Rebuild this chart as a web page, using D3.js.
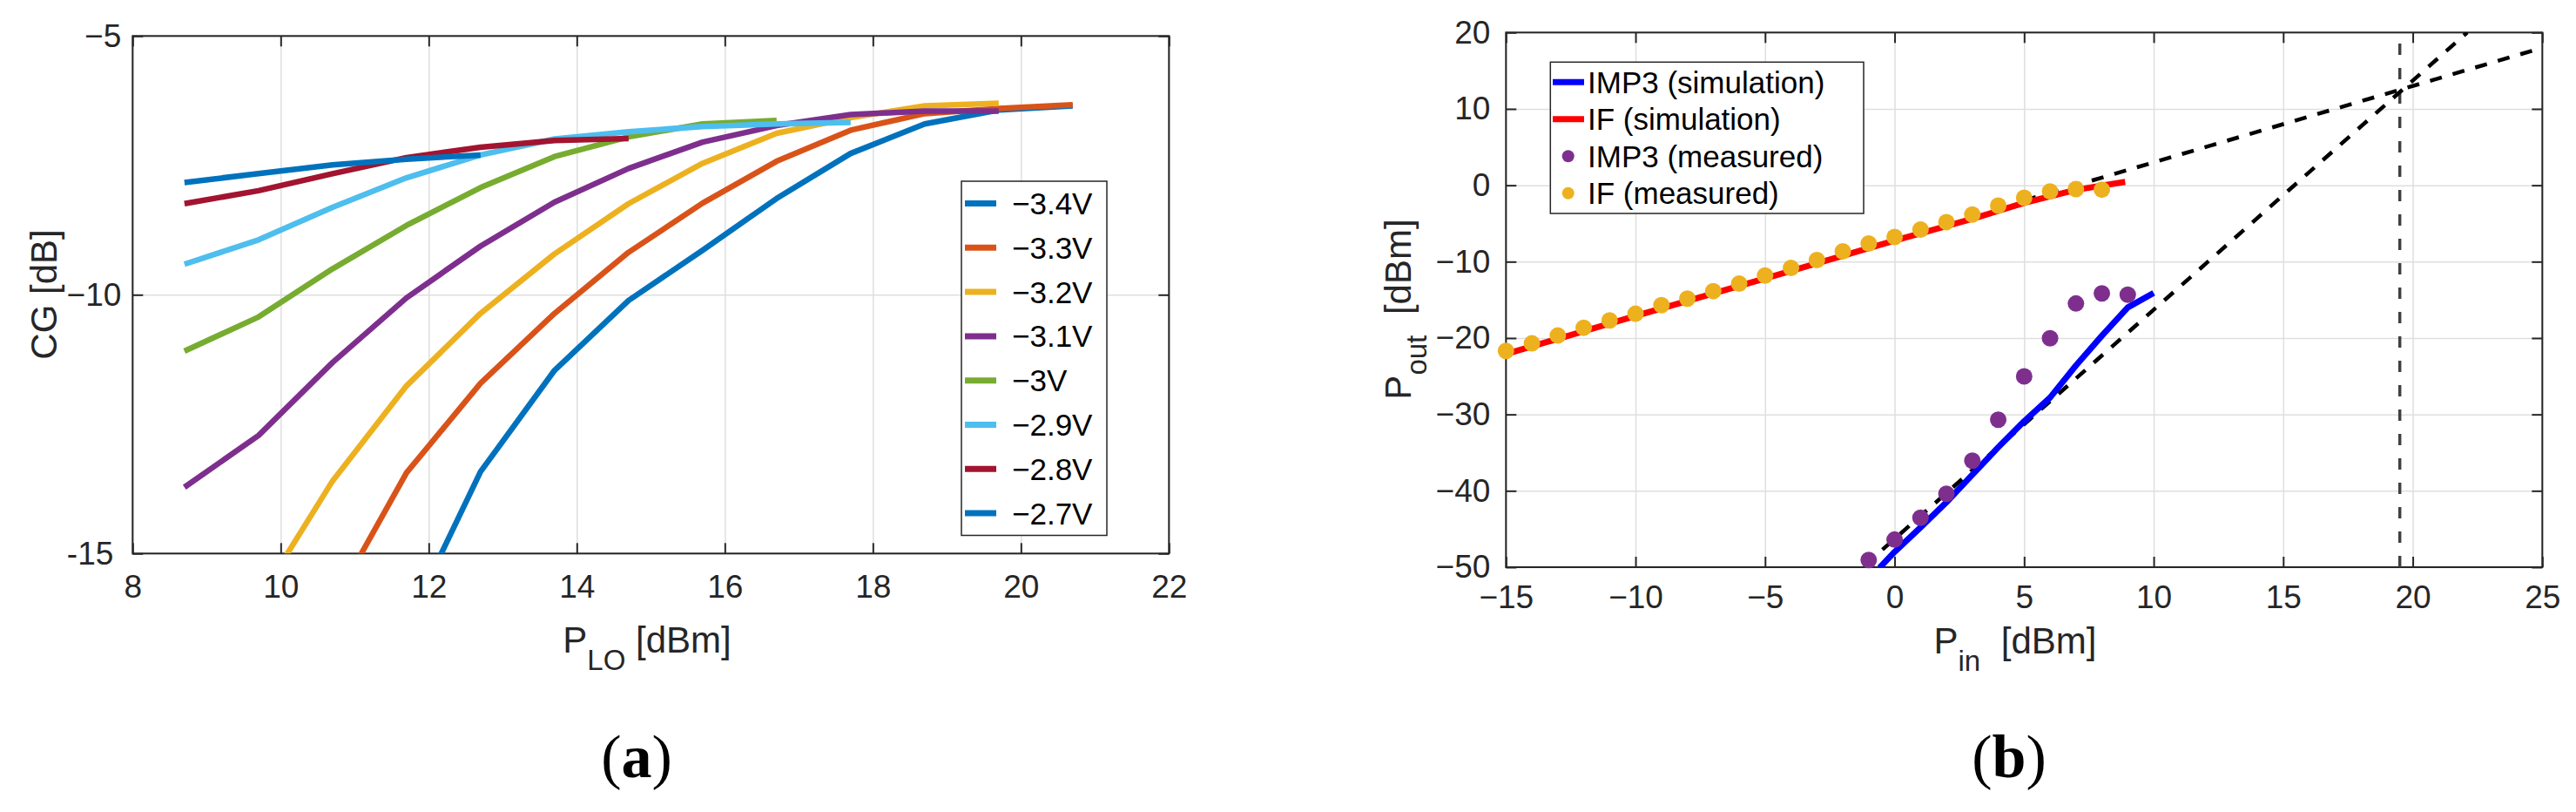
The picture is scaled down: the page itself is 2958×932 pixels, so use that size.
<!DOCTYPE html>
<html lang="en">
<head>
<meta charset="utf-8">
<script src="https://d3js.org/d3.v7.min.js"></script>
<style>
  body { margin: 0; background: #fff; }
  svg { display: block; font-family: "Liberation Sans", Arial, sans-serif; }
  .grid line { stroke: #dfdfdf; stroke-width: 1.5px; }
  .grid path { display: none; }
  .axis path { display: none; }
  .axis line { stroke: #262626; stroke-width: 2px; }
  .axis text { fill: #262626; font-size: 37px; font-family: "Liberation Sans", Arial, sans-serif; }
  .box { fill: none; stroke: #262626; stroke-width: 2px; }
  .lbl { fill: #262626; font-size: 42px; }
  .leg text { fill: #000; font-size: 35px; }
</style>
</head>
<body>
<script>
var width = 2958, height = 932;

// ---- panel (a): conversion gain vs LO power, one curve per gate bias
var loPower = [8.7, 9.7, 10.7, 11.7, 12.7, 13.7, 14.7, 15.7, 16.7, 17.7, 18.7, 19.7, 20.7];
var cgLabels = ["\u22123.4V", "\u22123.3V", "\u22123.2V", "\u22123.1V", "\u22123V", "\u22122.9V", "\u22122.8V", "\u22122.7V"];
var cg34 = [null, null, null, -16.4, -13.42, -11.46, -10.11, -9.14, -8.14, -7.27, -6.70, -6.43, -6.35];
var cg33 = [null, null, -16.0, -13.44, -11.71, -10.36, -9.18, -8.23, -7.42, -6.82, -6.50, -6.40, -6.33];
var cg32 = [null, -15.9, -13.6, -11.76, -10.36, -9.21, -8.24, -7.46, -6.88, -6.58, -6.35, -6.30, null];
var cg31 = [-13.72, -12.72, -11.31, -10.06, -9.06, -8.21, -7.56, -7.05, -6.73, -6.52, -6.45, -6.45, null];
var cg30 = [-11.09, -10.43, -9.50, -8.66, -7.93, -7.33, -6.95, -6.70, -6.63, null, null, null, null];
var cg29 = [-9.41, -8.94, -8.31, -7.74, -7.30, -6.99, -6.85, -6.75, -6.70, -6.67, null, null, null];
var cg28 = [-8.24, -7.99, -7.66, -7.35, -7.15, -7.02, -6.98, null, null, null, null, null, null];
var cg27 = [-7.83, -7.66, -7.49, -7.38, -7.30, null, null, null, null, null, null, null, null];
var cgSeries = [cg34, cg33, cg32, cg31, cg30, cg29, cg28, cg27];
var cgColors = ["#0072BD", "#D95319", "#EDB120", "#7E2F8E", "#77AC30", "#4DBEEE", "#A2142F", "#0072BD"];
var aXTicks = [8, 10, 12, 14, 16, 18, 20, 22];
var aYTicks = [-15, -10, -5];

// ---- panel (b): two-tone test, output power vs input power
var ifMeasX = [-15, -14, -13, -12, -11, -10, -9, -8, -7, -6, -5, -4, -3, -2, -1, 0, 1, 2, 3, 4, 5, 6, 7, 8];
var ifMeasY = [-21.69, -20.70, -19.67, -18.65, -17.70, -16.82, -15.69, -14.85, -13.86, -12.88, -11.81, -10.82,
               -9.80, -8.66, -7.63, -6.76, -5.81, -4.82, -3.84, -2.66, -1.63, -0.80, -0.49, -0.57];
var imMeasX = [-1, 0, 1, 2, 3, 4, 5, 6, 7, 8, 9];
var imMeasY = [-49.06, -46.39, -43.53, -40.39, -36.05, -30.69, -25.02, -20.04, -15.48, -14.15, -14.33];
var ifSimX = [-15, -10, -5, 0, 3, 5, 7, 8.9];
var ifSimY = [-22.1, -17.1, -12.2, -7.25, -4.4, -2.3, -0.6, 0.45];
var imSimX = [-0.58, 0, 1, 2, 3, 4, 5, 6, 7, 8, 9, 10];
var imSimY = [-50.08, -48.0, -44.8, -41.5, -37.9, -34.3, -30.9, -27.8, -23.6, -19.7, -16.0, -14.1];
// extrapolated slopes (1:1 and 3:1) and the IIP3 marker
var fitIfX = [5, 25], fitIfY = [-2, 18];
var fitImX = [-0.47, 22.1], fitImY = [-47.7, 20];
var iip3X = [19.5, 19.5], iip3Y = [-50, 20];
var bLegend = ["IMP3 (simulation)", "IF (simulation)", "IMP3 (measured)", "IF (measured)"];
var bXTicks = [-15, -10, -5, 0, 5, 10, 15, 20, 25];
var bYTicks = [-50, -40, -30, -20, -10, 0, 10, 20];

var svg = d3.select("body").append("svg")
  .attr("width", width)
  .attr("height", height);
svg.append("rect").attr("width", width).attr("height", height).attr("fill", "#fff");
var defs = svg.append("defs");

function fmt(d) {
  return d < 0 ? "\u2212" + (-d) : String(d);
}

function panel(o) {
  var g = svg.append("g");
  var x = d3.scaleLinear().domain(o.xDomain).range([o.left, o.right]);
  var y = d3.scaleLinear().domain(o.yDomain).range([o.bottom, o.top]);
  var w = o.right - o.left, h = o.bottom - o.top;

  g.append("g").attr("class", "grid")
    .attr("transform", "translate(0," + o.bottom + ")")
    .call(d3.axisBottom(x).tickValues(o.xTicks).tickSize(-h).tickFormat(""));
  g.append("g").attr("class", "grid")
    .attr("transform", "translate(" + o.left + ",0)")
    .call(d3.axisLeft(y).tickValues(o.yTicks).tickSize(-w).tickFormat(""));

  g.append("g").attr("class", "axis")
    .attr("transform", "translate(0," + o.bottom + ")")
    .call(d3.axisBottom(x).tickValues(o.xTicks).tickSize(-12).tickSizeOuter(0)
      .tickPadding(o.xPad).tickFormat(fmt));
  o.yAxis = g.append("g").attr("class", "axis")
    .attr("transform", "translate(" + o.left + ",0)")
    .call(d3.axisLeft(y).tickValues(o.yTicks).tickSize(-12).tickSizeOuter(0)
      .tickPadding(o.yPad).tickFormat(o.yFmt || fmt));
  g.append("g").attr("class", "axis")
    .attr("transform", "translate(0," + o.top + ")")
    .call(d3.axisTop(x).tickValues(o.xTicks).tickSize(-12).tickSizeOuter(0).tickFormat(""));
  g.append("g").attr("class", "axis")
    .attr("transform", "translate(" + o.right + ",0)")
    .call(d3.axisRight(y).tickValues(o.yTicks).tickSize(-12).tickSizeOuter(0).tickFormat(""));

  g.append("rect").attr("class", "box")
    .attr("x", o.left).attr("y", o.top).attr("width", w).attr("height", h);

  defs.append("clipPath").attr("id", o.id)
    .append("rect").attr("x", o.left).attr("y", o.top).attr("width", w).attr("height", h);
  var plot = g.append("g").attr("clip-path", "url(#" + o.id + ")");
  return { g: g, plot: plot, x: x, y: y, yAxis: o.yAxis };
}

// ================= panel (a)
var A = panel({
  id: "clipA", left: 152.3, right: 1342.3, top: 41.3, bottom: 635.3,
  xDomain: [8, 22], yDomain: [-15, -5], xTicks: aXTicks, yTicks: aYTicks,
  xPad: 24, yPad: 13,
  yFmt: function (d) { return d === -15 ? "-15" : fmt(d); }
});
// the bottom label was typed with a hyphen and sits a bit further left
A.yAxis.selectAll(".tick text").filter(function (d) { return d === -15; })
  .attr("dx", -9);

var lineA = d3.line()
  .defined(function (d) { return d[1] !== null; })
  .x(function (d) { return A.x(d[0]); })
  .y(function (d) { return A.y(d[1]); });

cgSeries.forEach(function (s, i) {
  var pts = s.map(function (v, j) { return [loPower[j], v]; });
  A.plot.append("path")
    .attr("d", lineA(pts))
    .attr("fill", "none")
    .attr("stroke", cgColors[i])
    .attr("stroke-width", 6.5)
    .attr("stroke-linejoin", "round");
});

// legend (a)
var legA = A.g.append("g").attr("class", "leg");
legA.append("rect")
  .attr("x", 1104).attr("y", 208).attr("width", 167).attr("height", 406.5)
  .attr("fill", "#fff").attr("stroke", "#262626").attr("stroke-width", 1.5);
cgLabels.forEach(function (t, i) {
  var yy = 233.6 + i * 50.76;
  legA.append("line").attr("x1", 1108).attr("x2", 1144).attr("y1", yy).attr("y2", yy)
    .attr("stroke", cgColors[i]).attr("stroke-width", 7);
  legA.append("text").attr("x", 1162).attr("y", yy).attr("dy", "0.36em").text(t);
});

// axis labels (a)
A.g.append("text").attr("class", "lbl")
  .attr("transform", "translate(65,338) rotate(-90)")
  .attr("text-anchor", "middle")
  .text("CG [dB]");
var xlA = A.g.append("text").attr("class", "lbl")
  .attr("x", 743).attr("y", 749).attr("text-anchor", "middle");
xlA.append("tspan").text("P");
xlA.append("tspan").attr("font-size", 33).attr("dy", 20).text("LO");
xlA.append("tspan").attr("dy", -20).text(" [dBm]");

// ================= panel (b)
var B = panel({
  id: "clipB", left: 1729.3, right: 2919.3, top: 37.3, bottom: 651,
  xDomain: [-15, 25], yDomain: [-50, 20], xTicks: bXTicks, yTicks: bYTicks,
  xPad: 21, yPad: 18
});

var lineB = d3.line()
  .x(function (d) { return B.x(d[0]); })
  .y(function (d) { return B.y(d[1]); });
function zip(xs, ys) { return xs.map(function (v, i) { return [v, ys[i]]; }); }

B.plot.append("path").attr("d", lineB(zip(iip3X, iip3Y)))
  .attr("fill", "none").attr("stroke", "#404040").attr("stroke-width", 3.5)
  .attr("stroke-dasharray", "13 15");
[[fitIfX, fitIfY], [fitImX, fitImY]].forEach(function (f) {
  B.plot.append("path").attr("d", lineB(zip(f[0], f[1])))
    .attr("fill", "none").attr("stroke", "#000").attr("stroke-width", 4.5)
    .attr("stroke-dasharray", "14 13");
});
B.plot.append("path").attr("d", lineB(zip(imSimX, imSimY)))
  .attr("fill", "none").attr("stroke", "#0000ff").attr("stroke-width", 7)
  .attr("stroke-linejoin", "round");
B.plot.append("path").attr("d", lineB(zip(ifSimX, ifSimY)))
  .attr("fill", "none").attr("stroke", "#ff0000").attr("stroke-width", 7)
  .attr("stroke-linejoin", "round");

B.g.append("g").selectAll("circle").data(zip(imMeasX, imMeasY)).enter()
  .append("circle")
  .attr("cx", function (d) { return B.x(d[0]); })
  .attr("cy", function (d) { return B.y(d[1]); })
  .attr("r", 9.5).attr("fill", "#7E2F8E");
B.g.append("g").selectAll("circle").data(zip(ifMeasX, ifMeasY)).enter()
  .append("circle")
  .attr("cx", function (d) { return B.x(d[0]); })
  .attr("cy", function (d) { return B.y(d[1]); })
  .attr("r", 9.5).attr("fill", "#EDB120");

// legend (b)
var legB = B.g.append("g").attr("class", "leg");
legB.append("rect")
  .attr("x", 1780.3).attr("y", 71.3).attr("width", 359.7).attr("height", 173.7)
  .attr("fill", "#fff").attr("stroke", "#262626").attr("stroke-width", 1.5);
var legBColors = ["#0000ff", "#ff0000", "#7E2F8E", "#EDB120"];
bLegend.forEach(function (t, i) {
  var yy = 94.3 + i * 42.5;
  if (i < 2) {
    legB.append("line").attr("x1", 1783).attr("x2", 1819).attr("y1", yy).attr("y2", yy)
      .attr("stroke", legBColors[i]).attr("stroke-width", 7);
  } else {
    legB.append("circle").attr("cx", 1800.7).attr("cy", yy).attr("r", 7)
      .attr("fill", legBColors[i]);
  }
  legB.append("text").attr("x", 1823).attr("y", yy).attr("dy", "0.36em").text(t);
});

// axis labels (b)
var ylB = B.g.append("text").attr("class", "lbl")
  .attr("transform", "translate(1620,355) rotate(-90)")
  .attr("text-anchor", "middle");
ylB.append("tspan").text("P");
ylB.append("tspan").attr("font-size", 33).attr("dy", 18).text("out");
ylB.append("tspan").attr("dy", -18).attr("dx", 12).text(" [dBm]");
var xlB = B.g.append("text").attr("class", "lbl")
  .attr("x", 2314).attr("y", 750).attr("text-anchor", "middle");
xlB.append("tspan").text("P");
xlB.append("tspan").attr("font-size", 33).attr("dy", 20).text("in");
xlB.append("tspan").attr("dy", -20).attr("dx", 12).text(" [dBm]");

// sub-figure captions
[["a", 731], ["b", 2307]].forEach(function (c) {
  var t = svg.append("text")
    .attr("x", c[1]).attr("y", 892)
    .attr("text-anchor", "middle")
    .attr("font-family", "'Liberation Serif', 'Times New Roman', serif")
    .attr("font-size", 70).attr("fill", "#000");
  t.append("tspan").text("(");
  t.append("tspan").attr("font-weight", "bold").text(c[0]);
  t.append("tspan").text(")");
});
</script>
</body>
</html>
